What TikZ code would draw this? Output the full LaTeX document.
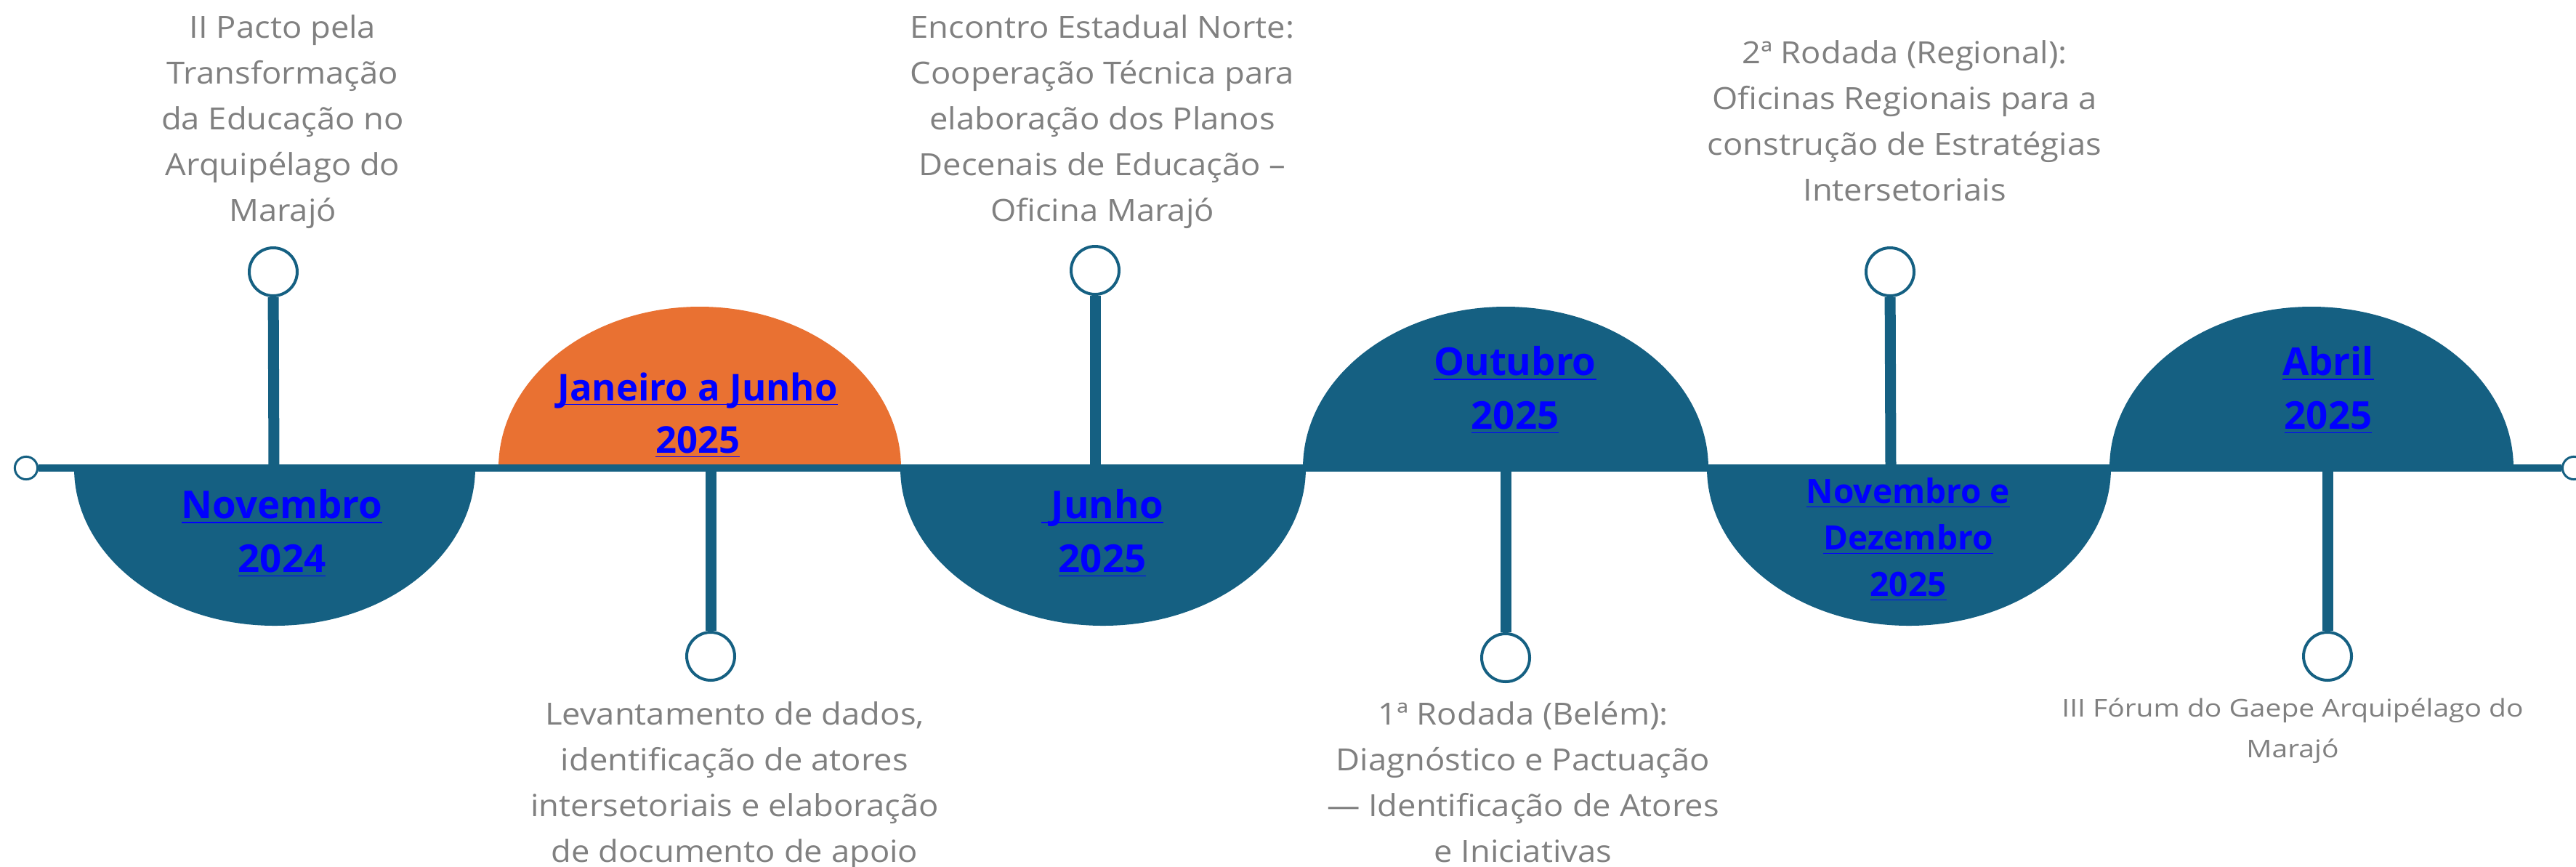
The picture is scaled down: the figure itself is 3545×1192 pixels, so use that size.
\documentclass[tikz,border=0pt]{standalone}
\usepackage{fontspec}
\setmainfont{Open Sans}
\newcommand\datelink[1]{\underline{\smash{#1}}}
\begin{document}
\begin{tikzpicture}[x=0.25pt,y=-0.25pt,
  event/.style={align=center,inner sep=0pt,anchor=base,text=eventgray,font=\fontsize{10.5}{15.7}\selectfont\addfontfeature{FakeStretch=1.08}},
  period/.style={align=center,inner sep=0pt,anchor=base,text=linkblue,font=\fontsize{13.2}{18.4}\selectfont\bfseries},
  milestone/.style={circle,draw=lineblue,fill=white,line width=1pt,inner sep=0pt,minimum size=16.5pt},
  lineend/.style={circle,draw=lineblue,fill=white,line width=0.75pt,inner sep=0pt,minimum size=7.8pt},
  stem/.style={lineblue,line width=3.75pt}]
  \definecolor{lineblue}{HTML}{156082}
  \definecolor{periodorange}{HTML}{E97132}
  \definecolor{linkblue}{HTML}{0000FF}
  \definecolor{eventgray}{HTML}{808080}
  \useasboundingbox (0,0) rectangle (3545,1192);
  \fill [lineblue] (102,644) arc (180:0:276 and 217) -- cycle;
  \fill [periodorange] (686,644) arc (180:360:277 and 222) -- cycle;
  \fill [lineblue] (1239,644) arc (180:0:279 and 217) -- cycle;
  \fill [lineblue] (1793,644) arc (180:360:279 and 222) -- cycle;
  \fill [lineblue] (2349,644) arc (180:0:278 and 217) -- cycle;
  \fill [lineblue] (2903,644) arc (180:360:278 and 222) -- cycle;
  \node [lineend] (lend) at (36,644) {};
  \node [lineend] (rend) at (3542,644) {};
  \draw [lineblue,line width=2.5pt] (lend) -- (rend);
  \node [milestone] (m1) at (376,374) {};
  \node [milestone] (m2) at (978,903) {};
  \node [milestone] (m3) at (1507,372) {};
  \node [milestone] (m4) at (2072,905) {};
  \node [milestone] (m5) at (2601,374) {};
  \node [milestone] (m6) at (3203,903) {};
  \coordinate (s1) at (377,644);
  \coordinate (s2) at (978,644);
  \coordinate (s3) at (1507,644);
  \coordinate (s4) at (2072,644);
  \coordinate (s5) at (2602,644);
  \coordinate (s6) at (3203,644);
  \draw [stem] (s1) -- (m1);
  \draw [stem] (s2) -- (m2);
  \draw [stem] (s3) -- (m3);
  \draw [stem] (s4) -- (m4);
  \draw [stem] (s5) -- (m5);
  \draw [stem] (s6) -- (m6);
  \node [period] (p1) at (388,787) {\datelink{Novembro}\\\datelink{2024}};
  \node [period,font=\fontsize{12.7}{18}\selectfont\bfseries] (p2) at (960,623) {\datelink{Janeiro a Junho}\\\datelink{2025}};
  \node [period] (p3) at (1517,787) {\datelink{\ Junho}\\\datelink{2025}};
  \node [period] (p4) at (2085,590) {\datelink{Outubro}\\\datelink{2025}};
  \node [period,font=\fontsize{11.5}{16}\selectfont\bfseries] (p5) at (2626,820) {\datelink{Novembro e}\\\datelink{Dezembro}\\\datelink{2025}};
  \node [period] (p6) at (3204,590) {\datelink{Abril}\\\datelink{2025}};
  \node [event] (e1) at (389,304) {II Pacto pela\\Transformação\\da Educação no\\Arquipélago do\\Marajó};
  \node [event] (e2) at (1011,1186) {Levantamento de dados,\\identificação de atores\\intersetoriais e elaboração\\de documento de apoio};
  \node [event] (e3) at (1517,304) {Encontro Estadual Norte:\\Cooperação Técnica para\\elaboração dos Planos\\Decenais de Educação –\\Oficina Marajó};
  \node [event] (e4) at (2096,1186) {1ª Rodada (Belém):\\Diagnóstico e Pactuação\\— Identificação de Atores\\e Iniciativas};
  \node [event] (e5) at (2621,276) {2ª Rodada (Regional):\\Oficinas Regionais para a\\construção de Estratégias\\Intersetoriais};
  \node [event,font=\fontsize{8.4}{14}\selectfont\addfontfeature{FakeStretch=1.16}] (e6) at (3155,1042) {III Fórum do Gaepe Arquipélago do\\Marajó};
\end{tikzpicture}
\end{document}
